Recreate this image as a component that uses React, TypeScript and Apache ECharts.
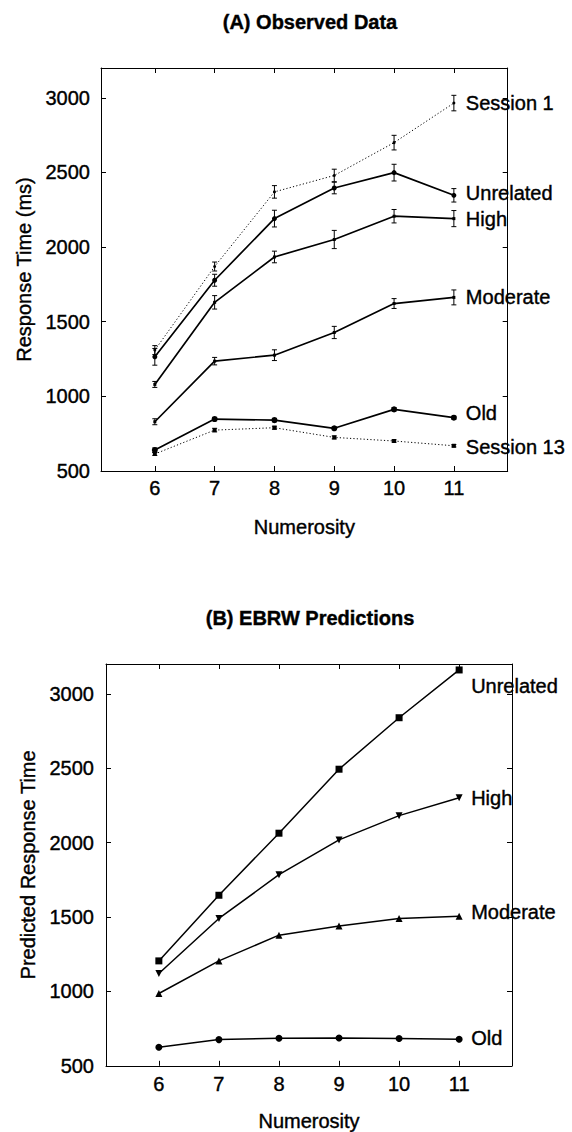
import React, { useEffect, useRef } from 'react';
import * as echarts from 'echarts';

// Shared axes
const numerosity = [6, 7, 8, 9, 10, 11];
const rtTicks = [500, 1000, 1500, 2000, 2500, 3000];

// (A) Observed mean response times (ms) and error-bar half widths
const obsSession1 = [1310, 1870, 2370, 2480, 2700, 2965];
const obsSession1Err = [30, 30, 42, 42, 49, 52];
const obsUnrelated = [1265, 1778, 2191, 2396, 2499, 2347];
const obsUnrelatedErr = [56, 40, 56, 39, 56, 45];
const obsHigh = [1080, 1630, 1934, 2051, 2207, 2191];
const obsHighErr = [20, 45, 39, 61, 45, 54];
const obsModerate = [830, 1236, 1276, 1428, 1622, 1663];
const obsModerateErr = [20, 25, 36, 41, 33, 50];
const obsOld = [640, 848, 841, 786, 913, 857];
const obsOldErr = [15, 12, 12, 10, 12, 10];
const obsSession13 = [614, 774, 790, 725, 701, 669];
const obsSession13Err = [10, 12, 10, 10, 8, 8];

// (B) EBRW predicted response times
const predUnrelated = [1205, 1646, 2063, 2493, 2839, 3160];
const predHigh = [1120, 1490, 1784, 2018, 2181, 2301];
const predModerate = [986, 1205, 1378, 1439, 1490, 1505];
const predOld = [625, 676, 685, 687, 683, 679];

const FONT = '"Liberation Sans", Arial, Helvetica, sans-serif';
const INK = '#000';

// Slightly heavier text, like the printed figure
const textInk = {
  fontSize: 20,
  color: INK,
  fontFamily: FONT,
  textBorderColor: INK,
  textBorderWidth: 0.4,
};

type LineOpts = {
  grid: number;
  symbol: string;
  symbolSize: number;
  width: number;
  dotted?: boolean;
  rotate?: number;
  labelDx: number;
  labelDy: number;
};

function lineSeries(name: string, values: number[], o: LineOpts) {
  return {
    type: 'line',
    name,
    xAxisIndex: o.grid * 2,
    yAxisIndex: o.grid * 2,
    symbol: o.symbol,
    symbolSize: o.symbolSize,
    symbolRotate: o.rotate || 0,
    showSymbol: true,
    z: 3,
    lineStyle: {
      color: INK,
      width: o.width,
      type: o.dotted ? [1.2, 2.2] : 'solid',
    },
    itemStyle: { color: INK },
    data: values.map((v, i) => {
      const item: any = { value: [numerosity[i], v] };
      if (i === values.length - 1) {
        item.label = {
          show: true,
          position: 'right',
          distance: o.labelDx - o.symbolSize / 2,
          offset: [0, o.labelDy],
          formatter: name,
          ...textInk,
        };
      }
      return item;
    }),
  };
}

function errorBars(groups: [number[], number[]][]) {
  const data: number[][] = [];
  groups.forEach(([vals, errs]) => {
    vals.forEach((v, i) => data.push([numerosity[i], v - errs[i], v + errs[i]]));
  });
  return {
    type: 'custom',
    xAxisIndex: 0,
    yAxisIndex: 0,
    z: 4,
    encode: { x: 0, y: [1, 2] },
    data,
    renderItem: (_params: any, api: any) => {
      const x = api.value(0);
      const a = api.coord([x, api.value(1)]);
      const b = api.coord([x, api.value(2)]);
      const w = 2.5;
      const style = { stroke: INK, lineWidth: 1 };
      return {
        type: 'group',
        children: [
          { type: 'line', shape: { x1: a[0], y1: a[1], x2: b[0], y2: b[1] }, style },
          { type: 'line', shape: { x1: a[0] - w, y1: a[1], x2: a[0] + w, y2: a[1] }, style },
          { type: 'line', shape: { x1: b[0] - w, y1: b[1], x2: b[0] + w, y2: b[1] }, style },
        ],
      };
    },
  };
}

const axisLine = { show: true, onZero: false, lineStyle: { color: INK, width: 1 } };
const tickStyle = { color: INK, width: 1 };
const plain = (v: number) => String(v);

function xAxes(gridIndex: number, min: number, max: number, labelMargin: number, nameGap: number) {
  const common = { type: 'value', gridIndex, min, max, splitLine: { show: false }, axisLine };
  return [
    {
      ...common,
      position: 'bottom',
      name: 'Numerosity',
      nameLocation: 'middle',
      nameGap,
      nameTextStyle: textInk,
      axisTick: { show: true, inside: true, length: 5, customValues: numerosity, lineStyle: tickStyle },
      axisLabel: { customValues: numerosity, margin: labelMargin, formatter: plain, ...textInk },
    },
    {
      ...common,
      position: 'top',
      axisTick: { show: true, inside: true, length: 5, customValues: numerosity, lineStyle: tickStyle },
      axisLabel: { show: false },
    },
  ];
}

function yAxes(gridIndex: number, name: string, labelMargin: number, nameGap: number) {
  const common = { type: 'value', gridIndex, min: 500, max: 3200, splitLine: { show: false }, axisLine };
  return [
    {
      ...common,
      position: 'left',
      name,
      nameLocation: 'middle',
      nameGap,
      nameTextStyle: textInk,
      axisTick: { show: true, inside: true, length: 5, customValues: rtTicks, lineStyle: tickStyle },
      axisLabel: { customValues: rtTicks, margin: labelMargin, formatter: plain, ...textInk },
    },
    {
      ...common,
      position: 'right',
      axisTick: { show: true, inside: true, length: 5, customValues: rtTicks, lineStyle: tickStyle },
      axisLabel: { show: false },
    },
  ];
}

const titleStyle = { fontSize: 20, fontWeight: 'bold', color: INK, fontFamily: FONT, textBorderColor: INK, textBorderWidth: 0.4 };

const option: any = {
  animation: false,
  backgroundColor: '#fff',
  textStyle: { fontFamily: FONT },
  title: [
    { text: '(A) Observed Data', left: 305, top: 7, textAlign: 'center', textStyle: titleStyle },
    { text: '(B) EBRW Predictions', left: 305, top: 603, textAlign: 'center', textStyle: titleStyle },
  ],
  grid: [
    { left: 101, top: 68, width: 406.7, height: 403 },
    { left: 106, top: 664, width: 406, height: 403 },
  ],
  xAxis: [...xAxes(0, 5.1, 11.9, 7, 46), ...xAxes(1, 5.12, 11.88, 8, 45)],
  yAxis: [...yAxes(0, 'Response Time (ms)', 11, 60), ...yAxes(1, 'Predicted Response Time', 12, 66)],
  series: [
    // (A) observed data
    lineSeries('Session 1', obsSession1, { grid: 0, symbol: 'circle', symbolSize: 3, width: 1, dotted: true, labelDx: 12, labelDy: 0 }),
    lineSeries('Unrelated', obsUnrelated, { grid: 0, symbol: 'circle', symbolSize: 5, width: 1.7, labelDx: 12, labelDy: -2 }),
    lineSeries('High', obsHigh, { grid: 0, symbol: 'rect', symbolSize: 3, width: 1.7, labelDx: 12, labelDy: 0 }),
    lineSeries('Moderate', obsModerate, { grid: 0, symbol: 'rect', symbolSize: 3, width: 1.7, labelDx: 12, labelDy: 0 }),
    lineSeries('Old', obsOld, { grid: 0, symbol: 'circle', symbolSize: 6, width: 1.7, labelDx: 12, labelDy: -5 }),
    lineSeries('Session 13', obsSession13, { grid: 0, symbol: 'rect', symbolSize: 4, width: 1, dotted: true, labelDx: 12, labelDy: 1 }),
    errorBars([
      [obsSession1, obsSession1Err],
      [obsUnrelated, obsUnrelatedErr],
      [obsHigh, obsHighErr],
      [obsModerate, obsModerateErr],
      [obsOld, obsOldErr],
      [obsSession13, obsSession13Err],
    ]),
    // (B) model predictions
    lineSeries('Unrelated', predUnrelated, { grid: 1, symbol: 'rect', symbolSize: 7, width: 1.5, labelDx: 12, labelDy: 16 }),
    lineSeries('High', predHigh, { grid: 1, symbol: 'triangle', symbolSize: 7, width: 1.5, rotate: 180, labelDx: 12, labelDy: 0 }),
    lineSeries('Moderate', predModerate, { grid: 1, symbol: 'triangle', symbolSize: 7, width: 1.5, labelDx: 12, labelDy: -4 }),
    lineSeries('Old', predOld, { grid: 1, symbol: 'circle', symbolSize: 7, width: 1.5, labelDx: 12, labelDy: -1 }),
  ],
};

export default function App() {
  const ref = useRef<HTMLDivElement>(null);
  useEffect(() => {
    const chart = echarts.init(ref.current!, null, { renderer: 'svg' });
    chart.setOption(option);
    return () => chart.dispose();
  }, []);
  return (
    <div
      ref={ref}
      style={{ position: 'fixed', left: 0, top: 0, width: 572, height: 1132, background: '#fff' }}
    />
  );
}
